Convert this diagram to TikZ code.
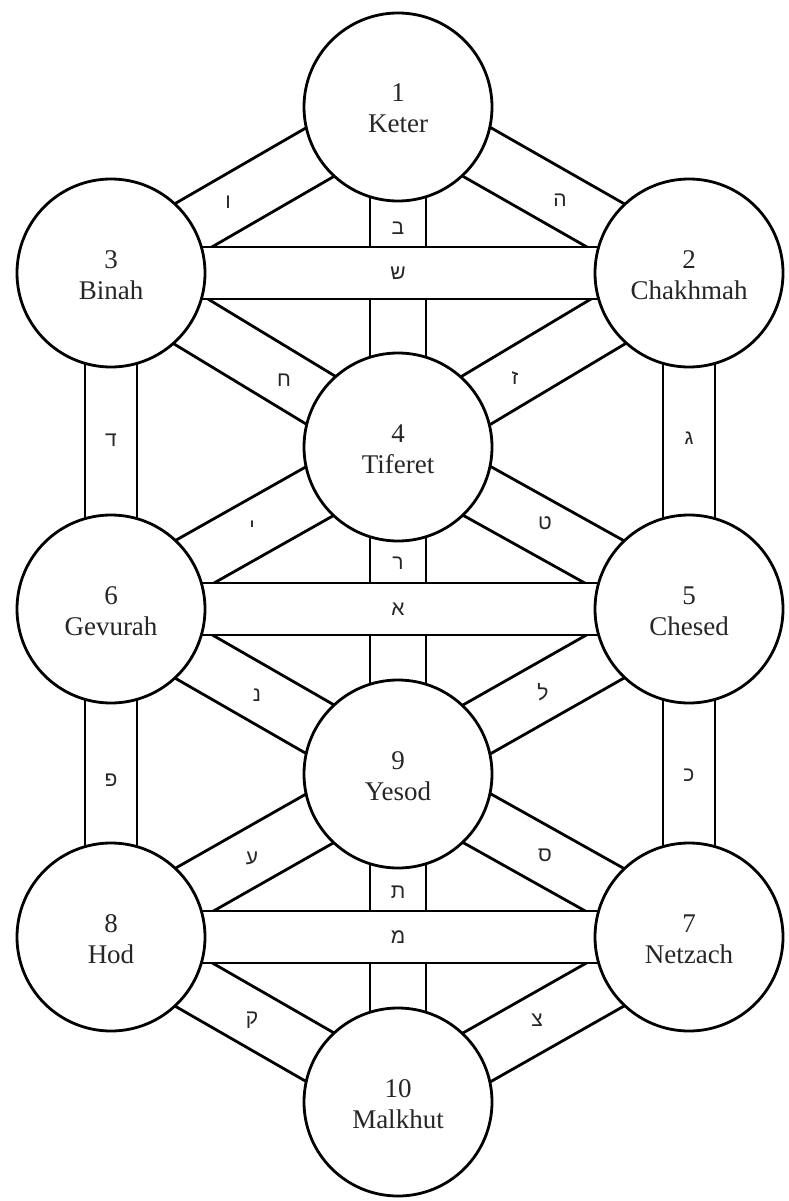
\documentclass[tikz,border=0pt]{standalone}
\usepackage{fontspec}
\setmainfont{Liberation Serif}
\newfontfamily\hebfont[Script=Hebrew]{Liberation Sans}
\usetikzlibrary{calc}
\tikzset{
  band/.style={line width=2.8pt, line join=miter, fill=white, draw=black},
  sefira/.style={circle, draw=black, line width=2.8pt, fill=white, minimum size=188pt, inner sep=0pt},
  numtxt/.style={anchor=base, font=\fontsize{27}{27}\selectfont, inner sep=0pt, text=black!85},
  letter/.style={font=\hebfont\fontsize{21}{21}\selectfont, inner sep=0pt, text=black!85},
}
\newcommand\pathband[3]{\path[band] ($(#1)!#3!90:(#2)$) -- ($(#2)!#3!-90:(#1)$) -- ($(#2)!#3!90:(#1)$) -- ($(#1)!#3!-90:(#2)$) -- cycle;}
\begin{document}
\begin{tikzpicture}[x=1pt,y=-1pt]
\useasboundingbox (0,0) rectangle (788,1201);
\fill[white] (0,0) rectangle (788,1201);
\coordinate (keter) at (398,107);
\coordinate (chakhmah) at (689,273);
\coordinate (binah) at (111,273);
\coordinate (tiferet) at (398,447);
\coordinate (chesed) at (689,609);
\coordinate (gevurah) at (111,609);
\coordinate (yesod) at (398,774);
\coordinate (netzach) at (689,937);
\coordinate (hod) at (111,937);
\coordinate (malkhut) at (398,1102);
% diagonal paths
\pathband{keter}{binah}{28pt}
\pathband{keter}{chakhmah}{28pt}
\pathband{binah}{tiferet}{28pt}
\pathband{chakhmah}{tiferet}{28pt}
\pathband{tiferet}{gevurah}{28pt}
\pathband{tiferet}{chesed}{28pt}
\pathband{gevurah}{yesod}{28pt}
\pathband{chesed}{yesod}{28pt}
\pathband{yesod}{hod}{28pt}
\pathband{yesod}{netzach}{28pt}
\pathband{hod}{malkhut}{28pt}
\pathband{netzach}{malkhut}{28pt}
% vertical paths
\pathband{keter}{tiferet}{28pt}
\pathband{binah}{gevurah}{26pt}
\pathband{chakhmah}{chesed}{26pt}
\pathband{tiferet}{yesod}{28pt}
\pathband{gevurah}{hod}{26pt}
\pathband{chesed}{netzach}{26pt}
\pathband{yesod}{malkhut}{28pt}
% horizontal paths
\pathband{binah}{chakhmah}{26pt}
\pathband{gevurah}{chesed}{26pt}
\pathband{hod}{netzach}{26pt}
% sefirot
\node[sefira] (s1) at (keter) {};
\node[sefira] (s2) at (chakhmah) {};
\node[sefira] (s3) at (binah) {};
\node[sefira] (s4) at (tiferet) {};
\node[sefira] (s5) at (chesed) {};
\node[sefira] (s6) at (gevurah) {};
\node[sefira] (s7) at (netzach) {};
\node[sefira] (s8) at (hod) {};
\node[sefira] (s9) at (yesod) {};
\node[sefira] (s10) at (malkhut) {};
% names
\node[numtxt] (n1) at ($(s1.center)+(0,-5)$) {1};
\node[numtxt] (t1) at ($(s1.center)+(0,26)$) {Keter};
\node[numtxt] (n2) at ($(s2.center)+(0,-5)$) {2};
\node[numtxt] (t2) at ($(s2.center)+(0,26)$) {Chakhmah};
\node[numtxt] (n3) at ($(s3.center)+(0,-5)$) {3};
\node[numtxt] (t3) at ($(s3.center)+(0,26)$) {Binah};
\node[numtxt] (n4) at ($(s4.center)+(0,-5)$) {4};
\node[numtxt] (t4) at ($(s4.center)+(0,26)$) {Tiferet};
\node[numtxt] (n5) at ($(s5.center)+(0,-5)$) {5};
\node[numtxt] (t5) at ($(s5.center)+(0,26)$) {Chesed};
\node[numtxt] (n6) at ($(s6.center)+(0,-5)$) {6};
\node[numtxt] (t6) at ($(s6.center)+(0,26)$) {Gevurah};
\node[numtxt] (n7) at ($(s7.center)+(0,-5)$) {7};
\node[numtxt] (t7) at ($(s7.center)+(0,26)$) {Netzach};
\node[numtxt] (n8) at ($(s8.center)+(0,-5)$) {8};
\node[numtxt] (t8) at ($(s8.center)+(0,26)$) {Hod};
\node[numtxt] (n9) at ($(s9.center)+(0,-5)$) {9};
\node[numtxt] (t9) at ($(s9.center)+(0,26)$) {Yesod};
\node[numtxt] (n10) at ($(s10.center)+(0,-5)$) {10};
\node[numtxt] (t10) at ($(s10.center)+(0,26)$) {Malkhut};
% path letters
\node[letter] (lvav) at (228,202) {ו};
\node[letter] (lheh) at (560,200) {ה};
\node[letter] (lbet) at (398,228) {ב};
\node[letter] (lshin) at (398,273) {ש};
\node[letter] (lchet) at (284,380) {ח};
\node[letter] (lzayin) at (515,378) {ז};
\node[letter] (ldalet) at (111,440) {ד};
\node[letter] (lgimel) at (689,438) {ג};
\node[letter] (lyod) at (252,527) {י};
\node[letter] (ltet) at (545,523) {ט};
\node[letter] (lresh) at (398,563) {ר};
\node[letter] (lalef) at (398,609) {א};
\node[letter] (lnun) at (257,695) {נ};
\node[letter] (llamed) at (543,692) {ל};
\node[letter] (lpeh) at (111,780) {פ};
\node[letter] (lkaf) at (689,775) {כ};
\node[letter] (layin) at (252,858) {ע};
\node[letter] (lsamekh) at (545,855) {ס};
\node[letter] (ltav) at (398,892) {ת};
\node[letter] (lmem) at (398,937) {מ};
\node[letter] (lkuf) at (252,1020) {ק};
\node[letter] (ltzadi) at (537,1020) {צ};
\end{tikzpicture}
\end{document}
